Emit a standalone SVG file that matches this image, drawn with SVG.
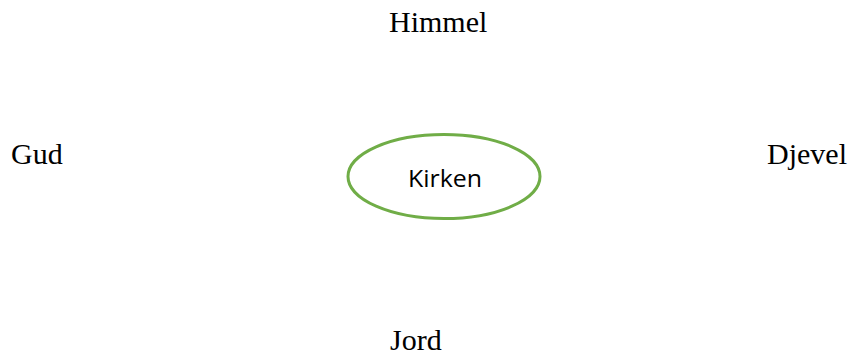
<svg xmlns="http://www.w3.org/2000/svg" width="851" height="355" viewBox="0 0 851 355">
<style>
.t{font-family:"Liberation Serif","Times New Roman",serif;font-size:30px;fill:#000}
.k{font-family:"Open Sans","Liberation Sans",sans-serif;font-size:24px;fill:#000}
</style>
<rect width="851" height="355" fill="#fff"/>
<g id="himmel"><text class="t" x="389" y="32">Himmel</text></g>
<g id="gud"><text class="t" x="11" y="164">Gud</text></g>
<g id="djevel"><text class="t" x="767" y="164">Djevel</text></g>
<g id="jord"><text class="t" x="390" y="350">Jord</text></g>
<g id="kirken">
<ellipse cx="444" cy="176.5" rx="96" ry="42" fill="#fff" stroke="#70AD47" stroke-width="3"/>
<text class="k" x="408" y="187" textLength="74" lengthAdjust="spacingAndGlyphs">Kirken</text>
</g>
<g id="connectors"></g>
</svg>
